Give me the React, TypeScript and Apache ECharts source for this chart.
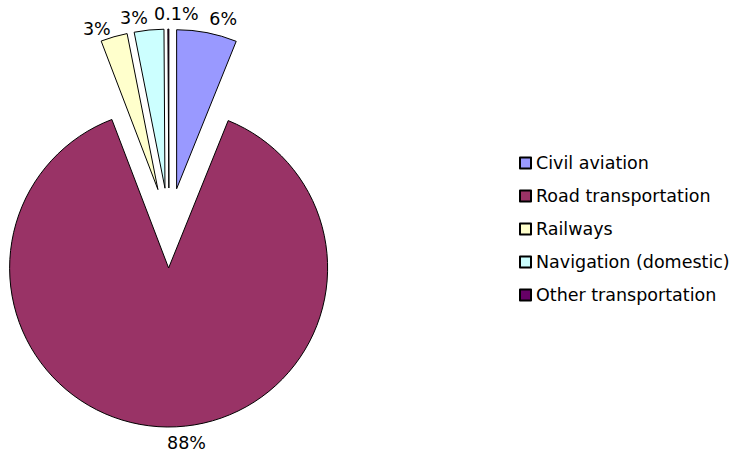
import React, { useEffect, useRef } from "react";
import * as echarts from "echarts";

const categories = [
  "Civil aviation",
  "Road transportation",
  "Railways",
  "Navigation (domestic)",
  "Other transportation",
];
const shares = [6.1, 87.9, 2.7, 3.0, 0.1];
const colors = ["#9999FF", "#993366", "#FFFFCC", "#CCFFFF", "#660066"];

const FONT = "DejaVu Sans";

export default function App() {
  const ref = useRef<HTMLDivElement>(null);

  useEffect(() => {
    if (!ref.current) return;
    const chart = echarts.init(ref.current, null, { renderer: "svg" });
    const option: any = {
      animation: false,
      backgroundColor: "#ffffff",
      legend: {
        orient: "vertical",
        left: 519,
        top: 153,
        padding: 0,
        icon: "rect",
        itemWidth: 11,
        itemHeight: 11,
        itemGap: 13,
        selectedMode: false,
        textStyle: {
          fontFamily: FONT,
          fontSize: 17.5,
          color: "#000000",
          lineHeight: 20,
        },
        data: categories,
      },
      series: [
        {
          type: "pie",
          center: [169, 228],
          radius: 159,
          startAngle: 90,
          clockwise: true,
          selectedMode: "multiple",
          selectedOffset: 40,
          avoidLabelOverlap: false,
          emphasis: { disabled: true },
          itemStyle: { borderColor: "#000000", borderWidth: 1 },
          label: {
            show: true,
            position: "outside",
            fontFamily: FONT,
            fontSize: 17.5,
            color: "#000000",
            distanceToLabelLine: 0,
            formatter: (p: any) =>
              (p.value >= 1 ? Math.round(p.value) : p.value) + "%",
          },
          labelLine: { show: false, length: 12, length2: 0 },
          labelLayout: (p: any) => {
            if (p.dataIndex === 1) return { align: "left", dy: 4 };
            if (p.dataIndex === 4) return { align: "center", dx: 8, dy: -3 };
            if (p.dataIndex === 0) return { dy: -2 };
            if (p.dataIndex === 2) return { dy: 4 };
            return {};
          },
          data: categories.map((name, i) => ({
            name,
            value: shares[i],
            selected: true,
            itemStyle: { color: colors[i] },
          })),
        },
      ],
    };
    chart.setOption(option);
    return () => chart.dispose();
  }, []);

  return (
    <div
      ref={ref}
      style={{ position: "fixed", left: 0, top: 0, width: 736, height: 463 }}
    />
  );
}
